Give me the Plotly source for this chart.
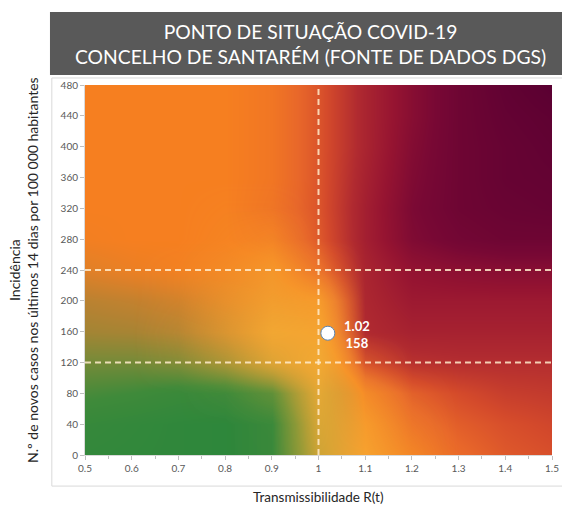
import plotly.graph_objects as go

# ---- data ----
title_lines = ["PONTO DE SITUAÇÃO COVID-19", "CONCELHO DE SANTARÉM (FONTE DE DADOS DGS)"]
x_title = "Transmissibilidade R(t)"
y_title_lines = ["Incidência", "N.º de novos casos nos últimos 14 dias por 100 000 habitantes"]

point_rt = [1.02]
point_inc = [158]
point_labels = ["1.02", "158"]

threshold_rt = [1.0]
threshold_inc = [120, 240]

x_ticks = [0.5, 0.6, 0.7, 0.8, 0.9, 1.0, 1.1, 1.2, 1.3, 1.4, 1.5]
y_ticks = [0, 40, 80, 120, 160, 200, 240, 280, 320, 360, 400, 440, 480]

# background risk field (0 = green ... 1 = dark purple), sampled on a coarse grid
bg_x = [0.5, 0.6, 0.7, 0.8, 0.9, 1.0, 1.1, 1.2, 1.3, 1.4, 1.5]
bg_y = [0, 40, 80, 120, 160, 200, 240, 280, 320, 360, 400, 440, 480]
bg_z = [
    [0.03, 0.02, 0.01, 0.00, 0.01, 0.15, 0.50, 0.52, 0.57, 0.61, 0.63],
    [0.05, 0.03, 0.01, 0.00, 0.02, 0.18, 0.50, 0.56, 0.60, 0.63, 0.65],
    [0.12, 0.10, 0.07, 0.05, 0.08, 0.22, 0.52, 0.60, 0.64, 0.67, 0.68],
    [0.20, 0.20, 0.21, 0.23, 0.26, 0.40, 0.64, 0.70, 0.71, 0.71, 0.71],
    [0.30, 0.31, 0.33, 0.37, 0.42, 0.48, 0.72, 0.75, 0.75, 0.75, 0.75],
    [0.35, 0.37, 0.40, 0.44, 0.47, 0.50, 0.73, 0.78, 0.78, 0.78, 0.78],
    [0.44, 0.47, 0.49, 0.49, 0.49, 0.57, 0.74, 0.81, 0.83, 0.84, 0.84],
    [0.49, 0.50, 0.50, 0.50, 0.52, 0.61, 0.76, 0.86, 0.90, 0.92, 0.92],
    [0.50, 0.50, 0.50, 0.50, 0.54, 0.62, 0.76, 0.87, 0.92, 0.94, 0.95],
    [0.50, 0.50, 0.50, 0.50, 0.53, 0.62, 0.75, 0.86, 0.92, 0.95, 0.96],
    [0.50, 0.50, 0.50, 0.50, 0.53, 0.62, 0.74, 0.85, 0.92, 0.95, 0.97],
    [0.50, 0.50, 0.50, 0.50, 0.53, 0.62, 0.74, 0.84, 0.92, 0.96, 0.98],
    [0.50, 0.50, 0.50, 0.50, 0.53, 0.62, 0.74, 0.84, 0.92, 0.97, 1.00],
]
bg_colorscale = [
    [0.00, "#2E873B"],
    [0.10, "#3F8A3A"],
    [0.22, "#7D8A38"],
    [0.34, "#B58232"],
    [0.44, "#E08028"],
    [0.50, "#F67F20"],
    [0.58, "#E8672A"],
    [0.64, "#D44A2B"],
    [0.72, "#B02A30"],
    [0.80, "#961431"],
    [0.88, "#780834"],
    [1.00, "#5A0032"],
]
# light-orange / yellow glow along the R(t)=1 diagonal (opacity 0..1)
glow_z = [
    [0.00, 0.00, 0.00, 0.00, 0.05, 0.75, 0.75, 0.25, 0.00, 0.00, 0.00],
    [0.00, 0.00, 0.00, 0.00, 0.05, 0.80, 0.60, 0.15, 0.00, 0.00, 0.00],
    [0.00, 0.00, 0.00, 0.05, 0.20, 0.85, 0.35, 0.05, 0.00, 0.00, 0.00],
    [0.00, 0.00, 0.08, 0.35, 0.75, 0.90, 0.10, 0.00, 0.00, 0.00, 0.00],
    [0.00, 0.00, 0.10, 0.45, 0.85, 0.80, 0.00, 0.00, 0.00, 0.00, 0.00],
    [0.00, 0.00, 0.05, 0.35, 0.65, 0.60, 0.00, 0.00, 0.00, 0.00, 0.00],
    [0.00, 0.00, 0.05, 0.25, 0.50, 0.15, 0.00, 0.00, 0.00, 0.00, 0.00],
    [0.00, 0.00, 0.00, 0.10, 0.20, 0.00, 0.00, 0.00, 0.00, 0.00, 0.00],
    [0.00, 0.00, 0.00, 0.05, 0.05, 0.00, 0.00, 0.00, 0.00, 0.00, 0.00],
    [0.00, 0.00, 0.00, 0.00, 0.00, 0.00, 0.00, 0.00, 0.00, 0.00, 0.00],
    [0.00, 0.00, 0.00, 0.00, 0.00, 0.00, 0.00, 0.00, 0.00, 0.00, 0.00],
    [0.00, 0.00, 0.00, 0.00, 0.00, 0.00, 0.00, 0.00, 0.00, 0.00, 0.00],
    [0.00, 0.00, 0.00, 0.00, 0.00, 0.00, 0.00, 0.00, 0.00, 0.00, 0.00],
]
glow_colorscale = [[0.0, "rgba(246,173,52,0)"], [1.0, "rgba(246,173,52,1)"]]

FONT = "Lato"
GREY = "#595959"

fig = go.Figure()

fig.add_trace(go.Heatmap(
    x=bg_x, y=bg_y, z=bg_z, zmin=0, zmax=1,
    colorscale=bg_colorscale, zsmooth="best",
    showscale=False, hoverinfo="skip",
))
fig.add_trace(go.Heatmap(
    x=bg_x, y=bg_y, z=glow_z, zmin=0, zmax=1,
    colorscale=glow_colorscale, zsmooth="best",
    showscale=False, hoverinfo="skip",
))

dash_style = dict(color="rgba(255,236,205,0.85)", width=2, dash="6px,4px")
for xv in threshold_rt:
    fig.add_trace(go.Scatter(x=[xv, xv], y=[y_ticks[0], y_ticks[-1]], mode="lines",
                             line=dash_style, hoverinfo="skip", showlegend=False))
for yv in threshold_inc:
    fig.add_trace(go.Scatter(x=[x_ticks[0], x_ticks[-1]], y=[yv, yv], mode="lines",
                             line=dash_style, hoverinfo="skip", showlegend=False))

fig.add_trace(go.Scatter(
    x=point_rt, y=point_inc, mode="markers",
    marker=dict(size=14, color="white", line=dict(color="#5B84B1", width=1)),
    showlegend=False,
))

fig.add_annotation(
    x=point_rt[0], y=point_inc[0], xref="x", yref="y",
    text="<b>" + "<br>".join(point_labels) + "</b>",
    showarrow=False, xshift=29, yshift=-1,
    font=dict(family=FONT, size=13, color="white"),
)

# title box
fig.add_shape(type="rect", xref="paper", yref="paper",
              x0=-0.075, x1=1.03, y0=1.027, y1=1.197,
              fillcolor=GREY, line=dict(width=0), layer="below")
fig.add_annotation(
    xref="paper", yref="paper", x=0.482, y=1.111,
    text="<br>".join(title_lines), showarrow=False,
    font=dict(family=FONT, size=19.3, color="white"),
    xanchor="center", yanchor="middle",
)
# outer light border
fig.add_shape(type="rect", xref="paper", yref="paper",
              x0=-0.071, x1=1.03, y0=-0.084, y1=1.019,
              fillcolor="rgba(0,0,0,0)", line=dict(color="#D9D9D9", width=1), layer="below")

fig.add_annotation(
    xref="paper", yref="paper", x=0.499, y=-0.1135,
    text=x_title, showarrow=False,
    font=dict(family=FONT, size=13.5, color="#262626"),
    xanchor="center", yanchor="middle",
)
fig.add_annotation(
    xref="paper", yref="paper", x=-0.133, y=0.5,
    text="<br>".join(y_title_lines), showarrow=False, textangle=-90,
    font=dict(family=FONT, size=14, color="#262626"),
    xanchor="center", yanchor="middle",
)

fig.update_xaxes(
    range=[x_ticks[0], x_ticks[-1]], tickvals=x_ticks, automargin=False,
    ticks="outside", ticklen=4, tickcolor="#BFBFBF",
    minor=dict(dtick=0.05, ticks="outside", ticklen=3, tickcolor="#BFBFBF"),
    showgrid=False, zeroline=False, showline=True, linecolor="#D9D9D9",
    tickfont=dict(family=FONT, size=10, color=GREY),
)
fig.update_yaxes(
    range=[y_ticks[0], y_ticks[-1]], tickvals=y_ticks, automargin=False,
    ticks="outside", ticklen=4, tickcolor="#BFBFBF",
    showgrid=False, zeroline=False, showline=True, linecolor="#D9D9D9",
    tickfont=dict(family=FONT, size=10, color=GREY),
)

fig.update_layout(
    width=562, height=508,
    margin=dict(l=85, r=10, t=85, b=53),
    paper_bgcolor="white", plot_bgcolor="white",
    showlegend=False,
)

fig.write_html("out.html", config={"displayModeBar": False},
               post_script="document.body.style.margin='0';")
